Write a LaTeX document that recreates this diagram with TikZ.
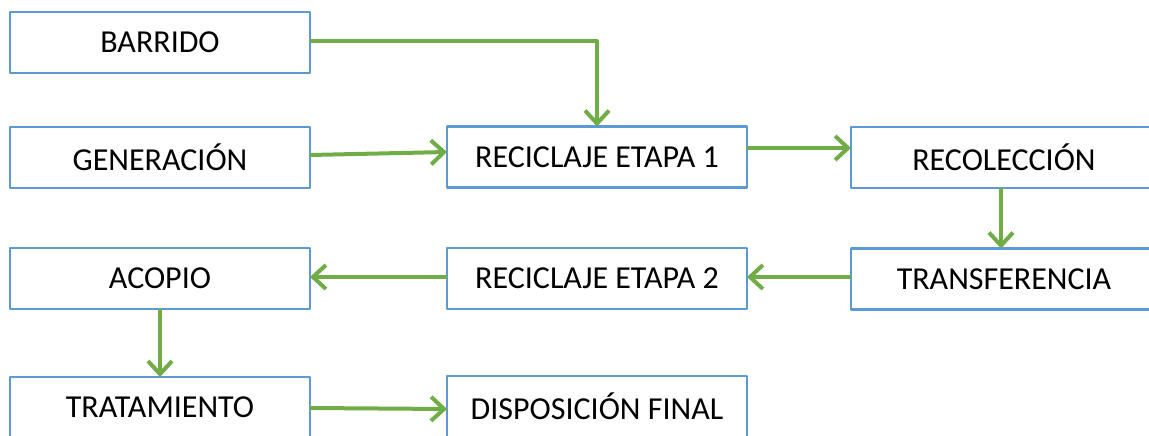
\documentclass[tikz,border=0pt]{standalone}
\usepackage{fontspec}
\setmainfont{Carlito}
\usetikzlibrary{arrows.meta}
\definecolor{bordeazul}{HTML}{5B9BD5}
\definecolor{flechaverde}{HTML}{70AD47}
\tikzset{
  caja/.style={draw=bordeazul, line width=2.5pt, minimum width=300pt, minimum height=61pt,
    inner sep=0pt, outer sep=0pt, fill=white, font=\fontsize{32}{38}\selectfont},
  flecha/.style={draw=flechaverde, line width=4pt, -{Straight Barb[length=13pt,width=24pt]}}
}
\begin{document}
\begin{tikzpicture}[x=1pt, y=-1pt, line join=round]
	\useasboundingbox (0,0) rectangle (1149,436);
	\clip (0,0) rectangle (1149,436);
	% cajas
	\node[caja] (barrido) at (160,42.5) {BARRIDO};
	\node[caja] (generacion) at (160,157.5) {GENERACIÓN};
	\node[caja] (reciclaje1) at (597,157) {RECICLAJE ETAPA 1};
	\node[caja, minimum width=306pt] (recoleccion) at (1004,157.5) {RECOLECCIÓN};
	\node[caja] (acopio) at (160,278.5) {ACOPIO};
	\node[caja] (reciclaje2) at (597,278.5) {RECICLAJE ETAPA 2};
	\node[caja, minimum width=306pt] (transferencia) at (1004,279) {TRANSFERENCIA};
	\node[caja] (tratamiento) at (160,407.5) {TRATAMIENTO};
	\node[caja] (disposicion) at (597,406.5) {DISPOSICIÓN FINAL};
	% flechas
	\draw[flecha] ([yshift=1.5pt]barrido.east) -| (reciclaje1.north);
	\draw[flecha] ([yshift=2.5pt]generacion.east) -- ([yshift=5pt]reciclaje1.west);
	\draw[flecha] ([yshift=9pt]reciclaje1.east) -- ([yshift=9.5pt]recoleccion.west);
	\draw[flecha] ([xshift=-3pt]recoleccion.south) -- ([xshift=-3pt]transferencia.north);
	\draw[flecha] ([yshift=2pt]transferencia.west) -- ([yshift=1.5pt]reciclaje2.east);
	\draw[flecha] ([yshift=1.5pt]reciclaje2.west) -- ([yshift=1.5pt]acopio.east);
	\draw[flecha] (acopio.south) -- (tratamiento.north);
	\draw[flecha] ([yshift=-0.5pt]tratamiento.east) -- ([yshift=-2.5pt]disposicion.west);
\end{tikzpicture}
\end{document}
